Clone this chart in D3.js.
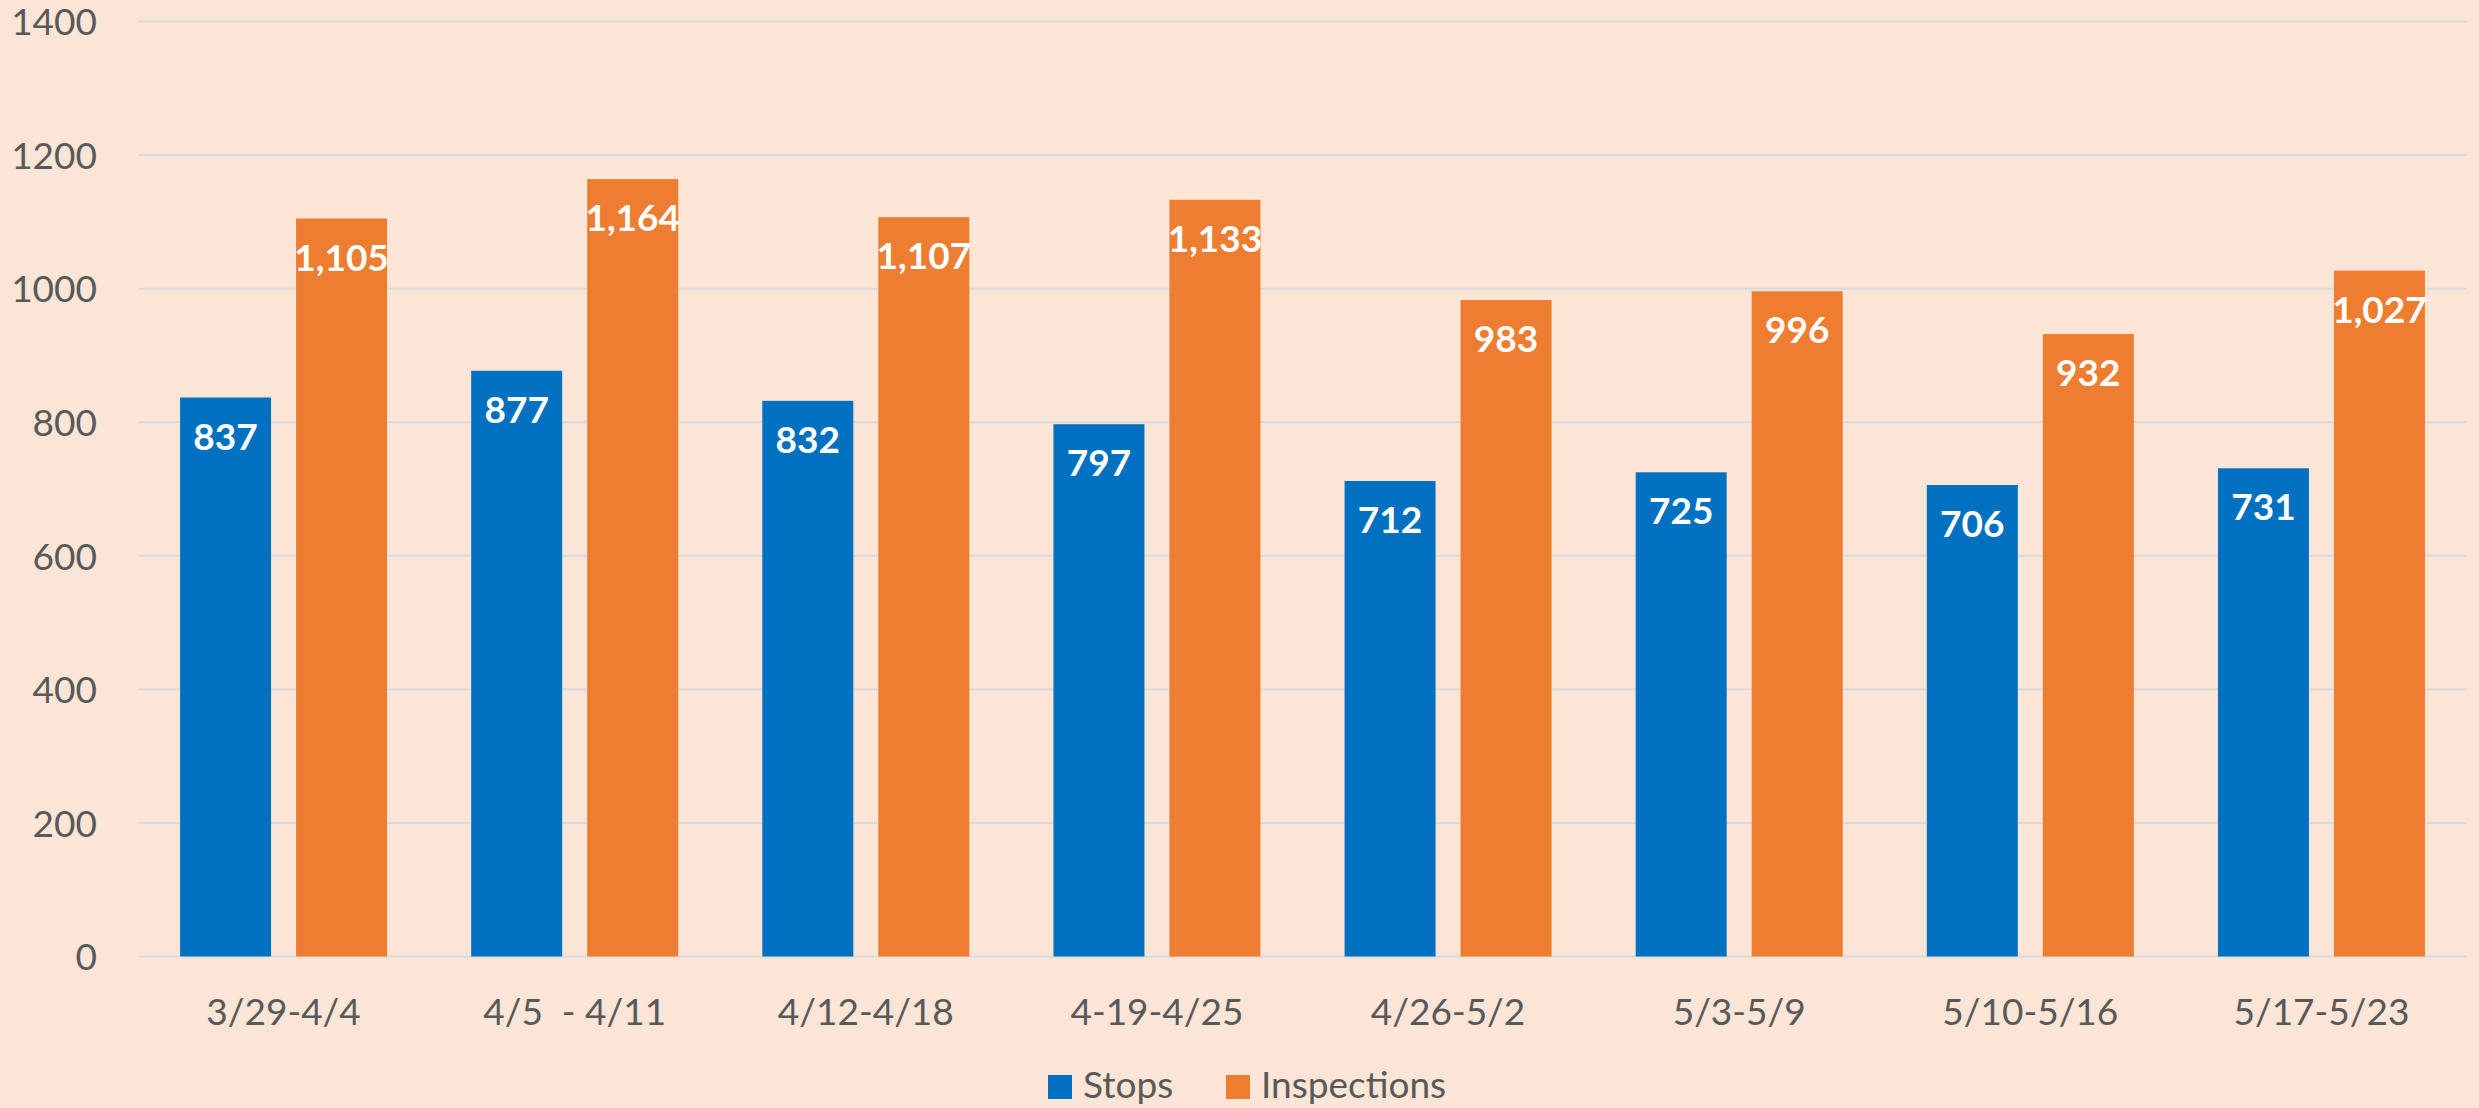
<!DOCTYPE html>
<meta charset="utf-8">
<title>Stops and Inspections</title>
<head>
  <script src="https://d3js.org/d3.v7.min.js"></script>
  <style>
    html, body { margin: 0; padding: 0; background: #FBE5D6; }
    svg { display: block; font-family: Lato, "Open Sans", sans-serif; }
  </style>
</head>
<body>
  <div id="chart"></div>
  <script>
    var weeks = ["3/29-4/4", "4/5  - 4/11", "4/12-4/18", "4-19-4/25", "4/26-5/2", "5/3-5/9", "5/10-5/16", "5/17-5/23"]
    var series = ["Stops", "Inspections"]
    var stops = [837, 877, 832, 797, 712, 725, 706, 731]
    var inspections = [1105, 1164, 1107, 1133, 983, 996, 932, 1027]
    var yTicks = [0, 200, 400, 600, 800, 1000, 1200, 1400]
    var colors = ["#0070C0", "#ED7D31"]

    var width = 2479
    var height = 1108
    // note: "top" is reserved on window, so use plot* names
    var plotLeft = 138, plotRight = 2467, plotTop = 21.5, plotBottom = 956.5

    var svg = d3.select("#chart")
      .append("svg")
      .attr("width", width)
      .attr("height", height)

    svg.append("rect")
      .attr("width", width)
      .attr("height", height)
      .attr("fill", "#FBE5D6")

    var x = d3.scaleBand()
      .domain(weeks)
      .range([plotLeft, plotRight])
      .paddingInner(0.289)
      .paddingOuter(0.1445)

    var xInner = d3.scaleBand()
      .domain(series)
      .range([0, x.bandwidth()])
      .paddingInner(0.2155)

    var y = d3.scaleLinear()
      .domain([0, 1400])
      .range([plotBottom, plotTop])

    var color = d3.scaleOrdinal().domain(series).range(colors)

    // gridlines
    svg.append("g")
      .selectAll("line")
      .data(yTicks)
      .enter().append("line")
      .attr("x1", plotLeft)
      .attr("x2", plotRight)
      .attr("y1", function(d) { return y(d) })
      .attr("y2", function(d) { return y(d) })
      .attr("stroke", "#D9DADB")
      .attr("stroke-width", 2)

    // y axis labels
    var yAxis = svg.append("g")
      .attr("transform", "translate(" + (plotLeft - 41) + ",0)")
      .call(d3.axisLeft(y).tickValues(yTicks).tickSize(0).tickPadding(0).tickFormat(d3.format("d")))
    yAxis.select(".domain").remove()
    yAxis.selectAll("text")
      .attr("fill", "#595959")
      .attr("font-size", 37)
      .attr("font-family", "Lato, 'Open Sans', sans-serif")
      .attr("dy", "0.36em")

    var rows = weeks.map(function(w, i) {
      return { week: w, values: [
        { key: "Stops", value: stops[i] },
        { key: "Inspections", value: inspections[i] }
      ] }
    })

    var groups = svg.append("g")
      .selectAll("g")
      .data(rows)
      .enter().append("g")
      .attr("transform", function(d) { return "translate(" + x(d.week) + ",0)" })

    groups.selectAll("rect")
      .data(function(d) { return d.values })
      .enter().append("rect")
      .attr("x", function(d) { return xInner(d.key) })
      .attr("width", xInner.bandwidth())
      .attr("y", function(d) { return y(d.value) })
      .attr("height", function(d) { return y(0) - y(d.value) })
      .attr("fill", function(d) { return color(d.key) })

    groups.selectAll("text")
      .data(function(d) { return d.values })
      .enter().append("text")
      .attr("x", function(d) { return xInner(d.key) + xInner.bandwidth() / 2 })
      .attr("y", function(d) { return y(d.value) + 52 })
      .attr("text-anchor", "middle")
      .attr("fill", "#FFFFFF")
      .attr("font-weight", "bold")
      .attr("font-size", 37)
      .text(function(d) { return d3.format(",")(d.value) })

    // x axis labels
    var xAxis = svg.append("g")
      .attr("transform", "translate(0," + plotBottom + ")")
      .call(d3.axisBottom(x).tickSize(0).tickPadding(0))
    xAxis.select(".domain").remove()
    xAxis.selectAll("text")
      .attr("fill", "#595959")
      .attr("font-size", 37)
      .attr("font-family", "Lato, 'Open Sans', sans-serif")
      .attr("dy", null)
      .attr("y", 68)
      .style("white-space", "pre")

    // legend
    var legend = svg.append("g")
    var legendItems = [{ key: "Stops", x: 1048 }, { key: "Inspections", x: 1226 }]
    legend.selectAll("rect")
      .data(legendItems)
      .enter().append("rect")
      .attr("x", function(d) { return d.x })
      .attr("y", 1075)
      .attr("width", 24)
      .attr("height", 24)
      .attr("fill", function(d) { return color(d.key) })
    legend.selectAll("text")
      .data(legendItems)
      .enter().append("text")
      .attr("x", function(d) { return d.x + 35 })
      .attr("y", 1098)
      .attr("fill", "#595959")
      .attr("font-size", 37)
      .text(function(d) { return d.key })
  </script>
</body>
